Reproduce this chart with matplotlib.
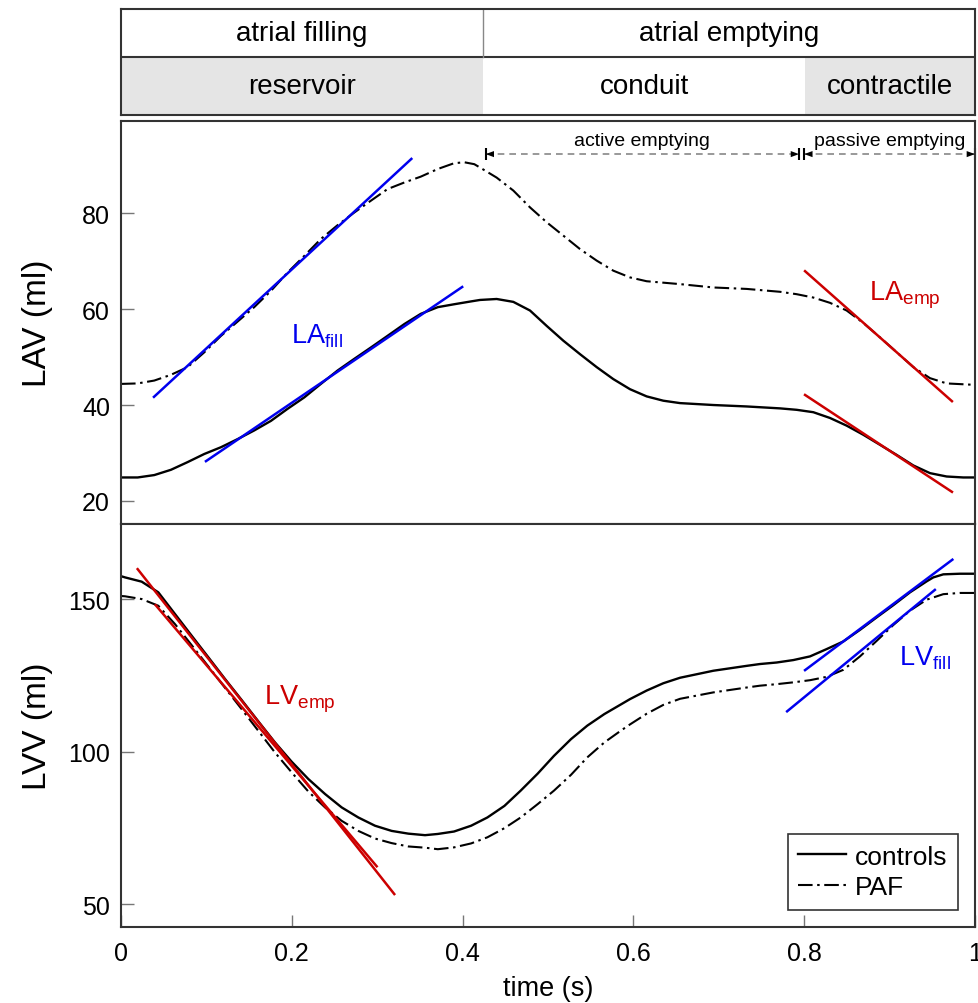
import matplotlib
matplotlib.use("Agg")
import matplotlib.pyplot as plt
from matplotlib.patches import Rectangle

plt.rcParams['font.family'] = ['Liberation Sans', 'DejaVu Sans']
plt.rcParams['mathtext.default'] = 'regular'

# ---------------- data ----------------
# Left atrial volume (ml)
lav_t_ctrl = [0.0, 0.0195, 0.039, 0.0585, 0.078, 0.0976, 0.117, 0.1366, 0.156, 0.1756,
              0.195, 0.2147, 0.234, 0.2537, 0.273, 0.2927, 0.312, 0.332, 0.351, 0.371,
              0.39, 0.41, 0.4204, 0.4399, 0.4594, 0.4789, 0.4984, 0.518, 0.5375, 0.557,
              0.5765, 0.596, 0.6155, 0.635, 0.6546, 0.6936, 0.7326, 0.7717, 0.7912, 0.8107,
              0.8302, 0.8497, 0.8692, 0.8888, 0.9083, 0.9278, 0.9473, 0.9668, 0.9863, 1.0]
lav_ctrl = [24.9, 24.9, 25.4, 26.5, 28.1, 29.8, 31.2, 32.9, 34.7, 36.7,
            39.2, 41.6, 44.4, 47.2, 49.6, 52.0, 54.4, 56.9, 59.0, 60.4,
            61.0, 61.6, 61.9, 62.1, 61.5, 59.7, 56.5, 53.4, 50.6, 47.9,
            45.4, 43.3, 41.8, 40.9, 40.4, 40.0, 39.7, 39.3, 39.0, 38.5,
            37.3, 35.7, 33.8, 31.7, 29.6, 27.4, 25.8, 25.1, 24.9, 24.9]

lav_t_paf = [0.0, 0.0195, 0.039, 0.0585, 0.078, 0.0976, 0.117, 0.1366, 0.156, 0.1756,
             0.195, 0.2147, 0.234, 0.2537, 0.273, 0.2927, 0.312, 0.332, 0.351, 0.371,
             0.39, 0.402, 0.4137, 0.4204, 0.4399, 0.4594, 0.4789, 0.4984, 0.518, 0.5375,
             0.557, 0.5765, 0.596, 0.6155, 0.6546, 0.6936, 0.7326, 0.7717, 0.7912, 0.8107,
             0.8302, 0.8497, 0.8692, 0.8888, 0.9083, 0.9278, 0.9473, 0.9668, 1.0]
lav_paf = [44.4, 44.5, 45.1, 46.3, 47.9, 51.0, 54.4, 57.4, 60.4, 63.8,
           67.6, 71.1, 74.6, 77.5, 80.1, 82.6, 85.0, 86.4, 87.6, 89.2,
           90.4, 90.6, 90.2, 89.5, 87.4, 84.7, 81.2, 78.1, 75.3, 72.5,
           70.1, 68.0, 66.6, 65.8, 65.2, 64.5, 64.2, 63.6, 63.1, 62.4,
           61.3, 59.7, 57.1, 54.1, 51.0, 47.9, 45.6, 44.5, 44.2]

# Left ventricular volume (ml)
lvv_t_ctrl = [0.0, 0.0047, 0.0242, 0.0437, 0.0632, 0.0827, 0.1023, 0.1218, 0.1413, 0.1608,
              0.1803, 0.1998, 0.2194, 0.2389, 0.2584, 0.2779, 0.2974, 0.3169, 0.3365, 0.356,
              0.371, 0.39, 0.41, 0.429, 0.449, 0.468, 0.488, 0.507, 0.527, 0.546,
              0.566, 0.585, 0.596, 0.6155, 0.635, 0.6546, 0.6936, 0.7326, 0.7482, 0.7678,
              0.7873, 0.8068, 0.8263, 0.8458, 0.8653, 0.8849, 0.9044, 0.9239, 0.9434, 0.9512,
              0.9629, 0.9824, 1.0]
lvv_ctrl = [157.5, 157.1, 155.7, 152.2, 145.1, 138.0, 130.9, 123.8, 116.9, 109.9,
            103.0, 96.7, 91.0, 86.1, 81.7, 78.4, 75.7, 74.0, 73.1, 72.6,
            73.0, 73.8, 75.7, 78.4, 82.2, 87.2, 92.8, 98.6, 104.1, 108.5,
            112.3, 115.4, 117.2, 120.0, 122.4, 124.2, 126.5, 128.1, 128.7, 129.2,
            130.0, 131.2, 133.6, 136.1, 139.9, 144.0, 148.0, 152.2, 155.8, 157.1,
            158.1, 158.3, 158.3]

lvv_t_paf = [0.0, 0.0047, 0.0242, 0.0437, 0.0632, 0.0827, 0.1023, 0.1218, 0.1413, 0.1608,
             0.1803, 0.1998, 0.2194, 0.2389, 0.2584, 0.2779, 0.2974, 0.3169, 0.3365, 0.356,
             0.371, 0.39, 0.41, 0.429, 0.449, 0.468, 0.488, 0.507, 0.527, 0.546,
             0.566, 0.585, 0.596, 0.6155, 0.635, 0.6546, 0.6936, 0.7326, 0.7482, 0.7678,
             0.7873, 0.8068, 0.8263, 0.8458, 0.8653, 0.8849, 0.9044, 0.9239, 0.9434, 0.9629,
             0.9824, 1.0]
lvv_paf = [151.0, 150.9, 150.0, 147.8, 141.8, 134.9, 127.9, 120.9, 113.9, 106.8,
           99.7, 93.2, 86.9, 81.7, 77.3, 74.0, 71.5, 70.0, 68.9, 68.5,
           68.0, 68.6, 69.9, 71.9, 74.9, 78.4, 82.8, 87.2, 92.4, 98.1,
           103.0, 106.8, 108.9, 112.4, 115.3, 117.3, 119.4, 121.0, 121.6, 122.1,
           122.7, 123.4, 124.5, 126.8, 131.2, 136.3, 141.5, 146.2, 149.8, 151.6,
           152.0, 152.0]

# tangent (slope) lines: (t0, v0, t1, v1)
la_fill_ctrl = [0.0995, 28.3, 0.3995, 64.6]
la_fill_paf = [0.0386, 41.7, 0.340, 91.3]
la_emp_ctrl = [0.801, 42.1, 0.973, 21.9]
la_emp_paf = [0.801, 67.9, 0.973, 40.8]
lv_emp_ctrl = [0.0195, 159.8, 0.320, 53.3]
lv_emp_paf = [0.0406, 148.0, 0.2994, 62.4]
lv_fill_ctrl = [0.801, 126.7, 0.9735, 162.9]
lv_fill_paf = [0.780, 113.2, 0.953, 153.0]

# phases
phase_bounds = [0.0, 0.424, 0.801, 1.0]
top_row_labels = ['atrial filling', 'atrial emptying']
bottom_row_labels = ['reservoir', 'conduit', 'contractile']
emptying_bounds = [0.427, 0.794, 0.800, 1.0]
emptying_labels = ['active emptying', 'passive emptying']

xticks = [0, 0.2, 0.4, 0.6, 0.8, 1]
xticklabels = ['0', '0.2', '0.4', '0.6', '0.8', '1']
lav_ticks = [20, 40, 60, 80]
lvv_ticks = [50, 100, 150]

# ---------------- figure ----------------
W, H = 979, 1004
fig = plt.figure(figsize=(W / 100, H / 100), dpi=100)

def fbox(x0, y0, x1, y1):
    return [x0 / W, 1 - y1 / H, (x1 - x0) / W, (y1 - y0) / H]

spine_col = '#333333'
ax_h = fig.add_axes(fbox(121, 10, 975, 116))
ax1 = fig.add_axes(fbox(121, 122, 975, 525))
ax2 = fig.add_axes(fbox(121, 525, 975, 928))

# header
split = 0.547
ax_h.set_xlim(0, 1)
ax_h.set_ylim(0, 1)
ax_h.set_xticks([])
ax_h.set_yticks([])
gray = '#e5e5e5'
ax_h.add_patch(Rectangle((phase_bounds[0], 0), phase_bounds[1] - phase_bounds[0], split,
                         facecolor=gray, edgecolor='none'))
ax_h.add_patch(Rectangle((phase_bounds[2], 0), phase_bounds[3] - phase_bounds[2], split,
                         facecolor=gray, edgecolor='none'))
ax_h.axhline(split, color=spine_col, lw=1.5)
ax_h.plot([phase_bounds[1], phase_bounds[1]], [split, 1], color='#888888', lw=1)
hfs = 20
ax_h.text((phase_bounds[0] + phase_bounds[1]) / 2, (1 + split) / 2, top_row_labels[0],
          ha='center', va='center', fontsize=hfs)
ax_h.text((phase_bounds[1] + phase_bounds[3]) / 2, (1 + split) / 2, top_row_labels[1],
          ha='center', va='center', fontsize=hfs)
for i, lab in enumerate(bottom_row_labels):
    ax_h.text((phase_bounds[i] + phase_bounds[i + 1]) / 2, split / 2, lab,
              ha='center', va='center', fontsize=hfs)

blue = '#0000ee'
red = '#cc0000'
dashdot = (0, (7, 2.2, 1.2, 2.2))

for ax in (ax_h, ax1, ax2):
    for s in ax.spines.values():
        s.set_color(spine_col)
        s.set_linewidth(1.5)

# top panel
ax1.plot(lav_t_ctrl, lav_ctrl, color='k', lw=1.7, label='controls')
ax1.plot(lav_t_paf, lav_paf, color='k', lw=1.5, linestyle=dashdot, label='PAF')
for seg, c in ((la_fill_ctrl, blue), (la_fill_paf, blue), (la_emp_ctrl, red), (la_emp_paf, red)):
    ax1.plot([seg[0], seg[2]], [seg[1], seg[3]], color=c, lw=1.8)
ax1.text(0.199, 54.5, 'LA$_{fill}$', color=blue, fontsize=19.5, ha='left', va='center')
ax1.text(0.876, 63.0, 'LA$_{emp}$', color=red, fontsize=19.5, ha='left', va='center')

# emptying arrows
ya = 92.3
for k in range(2):
    a, b = emptying_bounds[2 * k], emptying_bounds[2 * k + 1]
    ax1.plot([a, b], [ya, ya], color='#888888', lw=1.2, linestyle=(0, (4, 3)))
    ax1.plot([a, b], [ya, ya], linestyle='none', marker='|', color='k', ms=9, mew=1.5,
             clip_on=False)
    ax1.annotate('', xy=(a, ya), xytext=(a + 0.02, ya),
                 arrowprops=dict(arrowstyle='-|>,head_length=0.6,head_width=0.22',
                                 color='k', lw=0, shrinkA=0, shrinkB=0))
    ax1.annotate('', xy=(b, ya), xytext=(b - 0.02, ya),
                 arrowprops=dict(arrowstyle='-|>,head_length=0.6,head_width=0.22',
                                 color='k', lw=0, shrinkA=0, shrinkB=0), annotation_clip=False)
    ax1.text((a + b) / 2, ya + 1.1, emptying_labels[k], fontsize=14, ha='center', va='bottom')

ax1.set_xlim(0, 1)
ax1.set_ylim(15.2, 99.2)
ax1.set_yticks(lav_ticks)
ax1.set_xticks([])
ax1.set_ylabel('LAV (ml)', fontsize=24)
ax1.yaxis.set_label_coords(-0.08, 0.5)

# bottom panel
ax2.plot(lvv_t_ctrl, lvv_ctrl, color='k', lw=1.7, label='controls')
ax2.plot(lvv_t_paf, lvv_paf, color='k', lw=1.5, linestyle=dashdot, label='PAF')
for seg, c in ((lv_emp_ctrl, red), (lv_emp_paf, red), (lv_fill_ctrl, blue), (lv_fill_paf, blue)):
    ax2.plot([seg[0], seg[2]], [seg[1], seg[3]], color=c, lw=1.8)
ax2.text(0.168, 117.5, 'LV$_{emp}$', color=red, fontsize=19.5, ha='left', va='center')
ax2.text(0.911, 131.0, 'LV$_{fill}$', color=blue, fontsize=19.5, ha='left', va='center')

ax2.set_xlim(0, 1)
ax2.set_ylim(42.5, 174.6)
ax2.set_yticks(lvv_ticks)
ax2.set_xticks(xticks)
ax2.set_xticklabels(xticklabels)
ax2.set_ylabel('LVV (ml)', fontsize=24)
ax2.yaxis.set_label_coords(-0.08, 0.5)
ax2.set_xlabel('time (s)', fontsize=19.5, labelpad=7)

for ax in (ax1, ax2):
    ax.tick_params(direction='in', length=9, width=1, color='#777777', labelsize=18)
    ax.tick_params(axis='y', pad=8)
    ax.tick_params(axis='x', pad=10)

leg = ax2.legend(loc='lower right', fontsize=19, frameon=True, fancybox=False,
                 framealpha=1, edgecolor=spine_col, handlelength=1.8, handletextpad=0.35,
                 borderaxespad=0.65, borderpad=0.4, labelspacing=0.25)
leg.get_frame().set_linewidth(1.2)

fig.savefig('out.png', dpi=100)
